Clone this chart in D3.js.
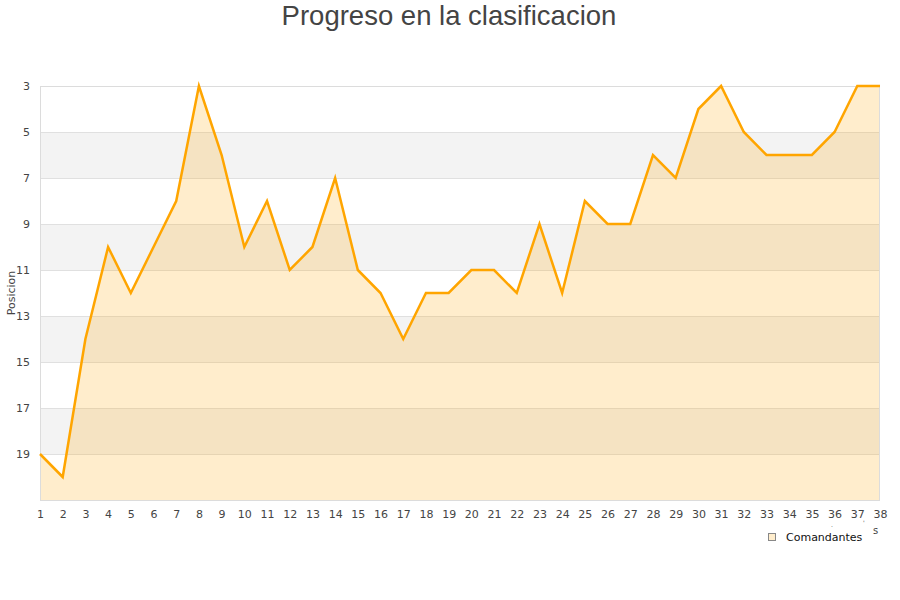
<!DOCTYPE html>
<html><head><meta charset="utf-8">
<script src="https://cdn.jsdelivr.net/npm/d3@7/dist/d3.min.js"></script>
<style>body{margin:0;background:#fff}svg{display:block}</style>
</head><body>
<svg id="c" width="900" height="600"></svg>
<script>
const title = "Progreso en la clasificacion";
const yTitle = "Posicion";
const seriesName = "Comandantes";
const jornadas = [1,2,3,4,5,6,7,8,9,10,11,12,13,14,15,16,17,18,19,20,21,22,23,24,25,26,27,28,29,30,31,32,33,34,35,36,37,38];
const posiciones = [19,20,14,10,12,10,8,3,6,10,8,11,10,7,11,12,14,12,12,11,11,12,9,12,8,9,9,6,7,4,3,5,6,6,6,5,3,3];
const yTicks = [3,5,7,9,11,13,15,17,19];

const svg = d3.select("#c");
const L = 40, R = 880, T = 86, B = 500;
const x = d3.scaleLinear().domain([1,38]).range([L,R]);
const y = d3.scaleLinear().domain([3,21]).range([T,B]);

// bands
const bands = [[5,7],[9,11],[13,15],[17,19]];
svg.append("g").selectAll("rect").data(bands).join("rect")
  .attr("x", L).attr("width", R-L)
  .attr("y", d=>y(d[0])).attr("height", d=>y(d[1])-y(d[0]))
  .attr("fill", "#f3f3f3");

// grid
svg.append("g").selectAll("line").data(yTicks).join("line")
  .attr("x1", L).attr("x2", R).attr("y1", d=>y(d)+0.5).attr("y2", d=>y(d)+0.5)
  .attr("stroke", "#e0e0e0").attr("stroke-width", 1);

const data = jornadas.map((j,i)=>({j, p: posiciones[i]}));
svg.append("path").datum(data)
  .attr("d", d3.area().x(d=>x(d.j)).y0(y(21)).y1(d=>y(d.p)))
  .attr("fill", "rgba(255,165,0,0.2)");

// frame
svg.append("rect").attr("x", L+0.5).attr("y", T+0.5).attr("width", R-L-1).attr("height", B-T)
  .attr("fill", "none").attr("stroke", "#dcdcdc");

svg.append("path").datum(data)
  .attr("d", d3.line().x(d=>x(d.j)).y(d=>y(d.p)))
  .attr("fill", "none").attr("stroke", "#ffa500").attr("stroke-width", 2.5)
  .attr("stroke-linejoin", "miter");

// y ticks
const yAxis = svg.append("g").attr("transform", `translate(${L},0)`)
  .call(d3.axisLeft(y).tickValues(yTicks).tickSize(0).tickPadding(10));
yAxis.select(".domain").remove();
yAxis.selectAll("text").attr("font-family","DejaVu Sans").attr("font-size", 11).attr("fill","#444");

// x ticks
const xAxis = svg.append("g").attr("transform", `translate(0,${B})`)
  .call(d3.axisBottom(x).tickValues(jornadas).tickSize(0).tickPadding(10));
xAxis.select(".domain").remove();
xAxis.selectAll("text").attr("font-family","DejaVu Sans").attr("font-size", 11).attr("fill","#444");

svg.append("text").attr("x", 449).attr("y", 25).attr("text-anchor","middle")
  .attr("font-family","Liberation Sans").attr("font-size", 27.5).attr("fill","#444").text(title);

svg.append("text").attr("transform","translate(15,293) rotate(-90)").attr("text-anchor","middle")
  .attr("font-family","DejaVu Sans").attr("font-size", 11).attr("fill","#444").text(yTitle);

// legend
svg.append("rect").attr("x", 768.5).attr("y", 533.5).attr("width", 7).attr("height", 7)
  .attr("fill", "rgba(255,165,0,0.2)").attr("stroke", "#888");
svg.append("text").attr("x", 786).attr("y", 541)
  .attr("font-family","DejaVu Sans").attr("font-size", 11).attr("fill","#111").text(seriesName);
svg.append("text").attr("x", 873).attr("y", 534)
  .attr("font-family","DejaVu Sans").attr("font-size", 10).attr("fill","#444").text("s");
svg.append("text").attr("x", 831).attr("y", 527)
  .attr("font-family","DejaVu Sans").attr("font-size", 6).attr("fill","#444").text(".");
svg.append("text").attr("x", 863).attr("y", 525)
  .attr("font-family","DejaVu Sans").attr("font-size", 6).attr("fill","#444").text("'");
</script>
</body></html>
